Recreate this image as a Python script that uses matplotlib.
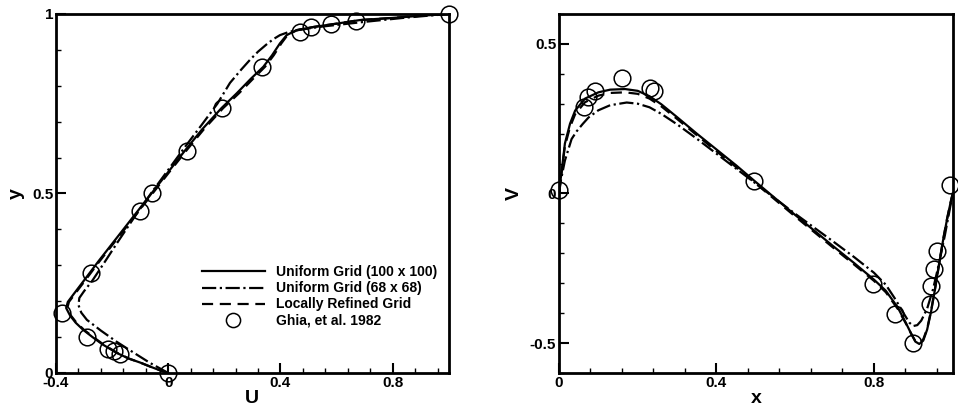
import numpy as np
import matplotlib
matplotlib.use("Agg")
import matplotlib.pyplot as plt
from matplotlib.ticker import MultipleLocator

plt.rcParams['font.family'] = ['Liberation Sans', 'DejaVu Sans']
plt.rcParams['font.weight'] = 'bold'

# ---- left panel: U along vertical centreline ----
ghia_u = [1.0, 0.669, 0.579, 0.507, 0.468, 0.335, 0.191, 0.068, -0.058, -0.099,
          -0.277, -0.380, -0.291, -0.216, -0.194, -0.172, 0.0]
ghia_y = [1.0, 0.979, 0.972, 0.965, 0.949, 0.851, 0.737, 0.618, 0.500, 0.452,
          0.279, 0.168, 0.100, 0.066, 0.062, 0.054, 0.0]

u100 = [0.0, -0.035, -0.065, -0.10, -0.14, -0.184, -0.235, -0.27, -0.303, -0.33, -0.35,
        -0.364, -0.358, -0.335, -0.30, -0.25, -0.18, -0.12, -0.06, 0.0, 0.06, 0.12, 0.19,
        0.244, 0.295, 0.339, 0.37, 0.398, 0.422, 0.457, 0.52, 0.60, 0.683, 0.80, 0.90, 1.0]
y100 = [0.0, 0.009, 0.018, 0.029, 0.040, 0.056, 0.080, 0.100, 0.120, 0.140, 0.160,
        0.181, 0.198, 0.222, 0.258, 0.310, 0.380, 0.440, 0.500, 0.560, 0.620, 0.678, 0.738,
        0.779, 0.820, 0.853, 0.885, 0.918, 0.941, 0.955, 0.964, 0.973, 0.983, 0.989, 0.995, 1.0]

u68 = [0.0, -0.065, -0.12, -0.184, -0.24, -0.29, -0.31, -0.32, -0.317, -0.30, -0.27,
       -0.23, -0.18, -0.12, -0.06, 0.0, 0.06, 0.12, 0.175, 0.22, 0.26, 0.291, 0.32,
       0.35, 0.375, 0.398, 0.43, 0.47, 0.55, 0.70, 0.85, 1.0]
y68 = [0.0, 0.028, 0.055, 0.087, 0.118, 0.148, 0.168, 0.189, 0.209, 0.228, 0.258,
       0.305, 0.365, 0.435, 0.502, 0.566, 0.630, 0.692, 0.750, 0.808, 0.845, 0.872,
       0.895, 0.915, 0.930, 0.941, 0.950, 0.956, 0.965, 0.978, 0.990, 1.0]

uref = [0.0, -0.035, -0.065, -0.10, -0.14, -0.182, -0.232, -0.267, -0.300, -0.327, -0.347,
        -0.360, -0.354, -0.331, -0.296, -0.246, -0.176, -0.116, -0.056, 0.004, 0.065, 0.126,
        0.196, 0.252, 0.303, 0.345, 0.376, 0.403, 0.425, 0.459, 0.52, 0.60, 0.683, 0.80,
        0.90, 1.0]
yref = [0.0, 0.009, 0.018, 0.029, 0.040, 0.056, 0.080, 0.100, 0.120, 0.140, 0.160,
        0.181, 0.198, 0.222, 0.258, 0.310, 0.380, 0.440, 0.500, 0.560, 0.620, 0.678, 0.738,
        0.779, 0.820, 0.853, 0.885, 0.918, 0.941, 0.955, 0.964, 0.973, 0.983, 0.989, 0.995, 1.0]

# ---- right panel: V along horizontal centreline ----
ghia_x = [0.0, 0.063, 0.073, 0.092, 0.159, 0.231, 0.241, 0.496, 0.797, 0.854, 0.899,
          0.942, 0.944, 0.953, 0.960, 0.993]
ghia_v = [0.010, 0.288, 0.321, 0.342, 0.385, 0.353, 0.342, 0.042, -0.301, -0.404, -0.499,
          -0.370, -0.309, -0.253, -0.192, 0.028]

x100 = [0.0, 0.003, 0.007, 0.015, 0.028, 0.041, 0.066, 0.10, 0.13, 0.168, 0.20,
        0.23, 0.26, 0.30, 0.35, 0.40, 0.45, 0.50, 0.55, 0.60, 0.65, 0.70, 0.75, 0.80, 0.83,
        0.86, 0.88, 0.895, 0.905, 0.915, 0.925, 0.935, 0.945, 0.955, 0.965, 0.975, 0.985,
        0.993, 1.0]
v100 = [0.0, 0.035, 0.077, 0.167, 0.233, 0.277, 0.317, 0.338, 0.347, 0.349, 0.343,
        0.325, 0.298, 0.255, 0.200, 0.147, 0.094, 0.038, -0.017, -0.072, -0.126, -0.180,
        -0.233, -0.288, -0.325, -0.380, -0.430, -0.470, -0.495, -0.503, -0.492, -0.455,
        -0.395, -0.320, -0.240, -0.160, -0.090, -0.040, 0.0]

x68 = [0.0, 0.005, 0.015, 0.032, 0.045, 0.06, 0.075, 0.10, 0.13, 0.172, 0.20,
       0.23, 0.26, 0.30, 0.35, 0.40, 0.45, 0.50, 0.55, 0.60, 0.65, 0.70, 0.75, 0.80, 0.83,
       0.855, 0.875, 0.89, 0.90, 0.91, 0.92, 0.935, 0.95, 0.965, 0.98, 0.99, 1.0]
v68 = [0.0, 0.045, 0.11, 0.182, 0.208, 0.232, 0.254, 0.278, 0.295, 0.304, 0.300,
       0.288, 0.266, 0.231, 0.183, 0.133, 0.083, 0.033, -0.018, -0.068, -0.116, -0.164,
       -0.213, -0.265, -0.305, -0.355, -0.400, -0.432, -0.443, -0.440, -0.425, -0.385,
       -0.320, -0.235, -0.140, -0.070, 0.0]

xref = [0.0, 0.003, 0.007, 0.015, 0.028, 0.041, 0.066, 0.10, 0.13, 0.168, 0.20,
        0.23, 0.26, 0.30, 0.35, 0.40, 0.45, 0.50, 0.55, 0.60, 0.65, 0.70, 0.75, 0.80, 0.83,
        0.86, 0.88, 0.895, 0.905, 0.915, 0.925, 0.935, 0.945, 0.955, 0.965, 0.975, 0.985,
        0.993, 1.0]
vref = [0.0, 0.033, 0.073, 0.158, 0.222, 0.265, 0.305, 0.327, 0.336, 0.338, 0.333,
        0.317, 0.291, 0.249, 0.195, 0.141, 0.088, 0.033, -0.022, -0.077, -0.131, -0.185,
        -0.238, -0.292, -0.330, -0.385, -0.432, -0.470, -0.493, -0.500, -0.488, -0.452,
        -0.392, -0.318, -0.238, -0.158, -0.088, -0.038, 0.0]

labels = ['Uniform Grid (100 x 100)', 'Uniform Grid (68 x 68)',
          'Locally Refined Grid', 'Ghia, et al. 1982']

fig = plt.figure(figsize=(9.58, 4.08), dpi=100)
ax1 = fig.add_axes([0.0585, 0.0858, 0.410, 0.880])
ax2 = fig.add_axes([0.5835, 0.0858, 0.411, 0.880])

lw = 1.6
ax1.plot(u100, y100, '-', color='k', lw=lw, label=labels[0])
ax1.plot(u68, y68, '-.', color='k', lw=lw, label=labels[1])
ax1.plot(uref, yref, '--', color='k', lw=lw, dashes=(5, 3), label=labels[2])
ax1.plot(ghia_u, ghia_y, 'o', mfc='none', mec='k', ms=12, mew=1.1, clip_on=False,
         label=labels[3])

ax2.plot(x100, v100, '-', color='k', lw=lw)
ax2.plot(x68, v68, '-.', color='k', lw=lw)
ax2.plot(xref, vref, '--', color='k', lw=lw, dashes=(5, 3))
ax2.plot(ghia_x, ghia_v, 'o', mfc='none', mec='k', ms=12, mew=1.1, clip_on=False)

ax1.set_xlim(-0.4, 1.0)
ax1.set_ylim(0, 1)
ax1.set_xticks([-0.4, 0, 0.4, 0.8])
ax1.set_xticklabels(['-0.4', '0', '0.4', '0.8'])
ax1.set_yticks([0, 0.5, 1])
ax1.set_yticklabels(['0', '0.5', '1'])
ax1.xaxis.set_minor_locator(MultipleLocator(0.08))
ax1.yaxis.set_minor_locator(MultipleLocator(0.1))
ax1.set_xlabel('U', fontsize=14, fontweight='bold', labelpad=0)
ax1.set_ylabel('y', fontsize=14, fontweight='bold', labelpad=5)

ax2.set_xlim(0, 1.0)
ax2.set_ylim(-0.6, 0.6)
ax2.set_xticks([0, 0.4, 0.8])
ax2.set_xticklabels(['0', '0.4', '0.8'])
ax2.set_yticks([-0.5, 0, 0.5])
ax2.set_yticklabels(['-0.5', '0', '0.5'])
ax2.xaxis.set_minor_locator(MultipleLocator(0.08))
ax2.yaxis.set_minor_locator(MultipleLocator(0.1))
ax2.set_xlabel('x', fontsize=14, fontweight='bold', labelpad=0)
ax2.set_ylabel('V', fontsize=14, fontweight='bold', labelpad=5)

for ax in (ax1, ax2):
    for s in ax.spines.values():
        s.set_linewidth(2)
    ax.tick_params(which='major', direction='in', length=7, width=1.5,
                   labelsize=11, pad=2)
    ax.tick_params(which='minor', direction='in', length=3.5, width=1)
    for t in ax.get_xticklabels() + ax.get_yticklabels():
        t.set_fontweight('bold')

leg = ax1.legend(loc='upper left', bbox_to_anchor=(0.372, 0.30), frameon=False,
                 fontsize=10, handlelength=4.5, handletextpad=0.8, labelspacing=0.15,
                 borderpad=0, borderaxespad=0, markerscale=0.85)
for t in leg.get_texts():
    t.set_fontweight('bold')

fig.savefig('out.png', dpi=100)
